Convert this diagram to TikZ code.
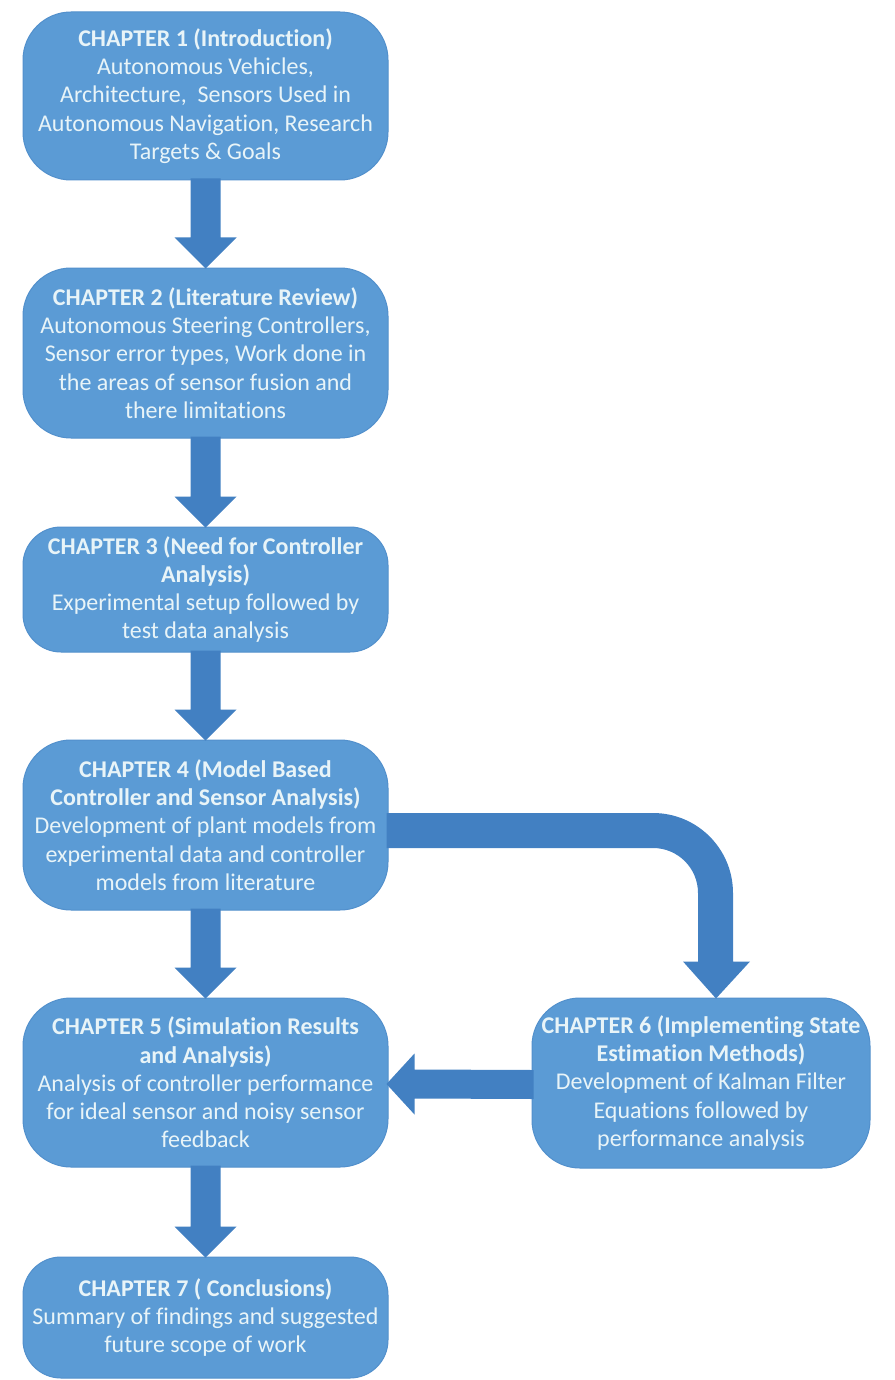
\documentclass[tikz,border=0pt]{standalone}
\usepackage{fontspec}
\setmainfont{Carlito}[Ligatures=NoCommon]
\usetikzlibrary{calc}
\definecolor{boxblue}{HTML}{5B9BD5}
\definecolor{boxedge}{HTML}{5290CC}
\definecolor{arrowblue}{HTML}{4280C2}
\definecolor{boxtext}{HTML}{E8F4F8}
% vertical block arrow from the bottom of one chapter box to the top of the next
\newcommand\chapterflow[2]{%
  \fill[blockarrow] ($(#1.south)+(-15,-2)$) -- ($(#2.north)+(-15,-30)$)
    -- ($(#2.north)+(-31,-30)$) -- ($(#2.north)+(0,1)$)
    -- ($(#2.north)+(31,-30)$) -- ($(#2.north)+(15,-30)$)
    -- ($(#1.south)+(15,-2)$) -- cycle;}
\begin{document}
\begin{tikzpicture}[x=1pt,y=-1pt,
  chapter/.style={rectangle, rounded corners=48pt, fill=boxblue, draw=boxedge,
    line width=1pt, text=boxtext, align=center, inner sep=0pt,
    font=\fontsize{24}{28.3}\selectfont},
  blockarrow/.style={fill=arrowblue}]
\useasboundingbox (0,0) rectangle (894,1380);
\fill[white] (0,0) rectangle (894,1380);

\node[chapter, minimum width=365pt, minimum height=168pt] (c1) at (205.5,96)
  {\textbf{CHAPTER 1 (Introduction)}\\Autonomous Vehicles,\\Architecture,\ \ Sensors Used in\\Autonomous Navigation, Research\\Targets \& Goals};
\node[chapter, minimum width=365pt, minimum height=170pt] (c2) at (205.5,353)
  {\textbf{CHAPTER 2 (Literature Review)}\\Autonomous Steering Controllers,\\Sensor error types, Work done in\\the areas of sensor fusion and\\there limitations};
\node[chapter, minimum width=365pt, minimum height=125pt, rounded corners=38pt] (c3) at (205.5,589.5)
  {\textbf{CHAPTER 3 (Need for Controller}\\\textbf{Analysis)}\\Experimental setup followed by\\test data analysis};
\node[chapter, minimum width=365pt, minimum height=170pt] (c4) at (205.5,825)
  {\textbf{CHAPTER 4 (Model Based}\\\textbf{Controller and Sensor Analysis)}\\Development of plant models from\\experimental data and controller\\models from literature};
\node[chapter, minimum width=365pt, minimum height=169pt] (c5) at (205.5,1082.5)
  {\textbf{CHAPTER 5 (Simulation Results}\\\textbf{and Analysis)}\\Analysis of controller performance\\for ideal sensor and noisy sensor\\feedback};
\node[chapter, minimum width=338pt, minimum height=170pt] (c6) at (701,1083)
  {\textbf{CHAPTER 6 (Implementing State}\\\textbf{Estimation Methods)}\\Development of Kalman Filter\\Equations followed by\\performance analysis};
\node[chapter, minimum width=365pt, minimum height=121pt, rounded corners=38pt] (c7) at (205.5,1317.5)
  {\textbf{CHAPTER 7 ( Conclusions)}\\Summary of findings and suggested\\future scope of work};

% straight flow down the left column
\chapterflow{c1}{c2}
\chapterflow{c2}{c3}
\chapterflow{c3}{c4}
\chapterflow{c4}{c5}
\chapterflow{c5}{c7}

% bent arrow from chapter 4 over to chapter 6
\coordinate (a) at ($(c4.east)+(-2,-12)$);
\coordinate (b) at ($(c4.east)+(-2,23)$);
\coordinate (tip6) at ($(c6.north)+(15,1)$);
\coordinate (bend) at ($(tip6 |- b)+(-63,45)$);
\fill[blockarrow] (a) -- ($(bend)+(0,-80)$)
  .. controls ($(bend)+(44.2,-80)$) and ($(bend)+(80,-44.2)$) .. ($(bend)+(80,0)$)
  -- ($(tip6)+(17,-37)$) -- ($(tip6)+(34,-37)$) -- (tip6)
  -- ($(tip6)+(-33,-37)$) -- ($(tip6)+(-18,-37)$) -- ($(bend)+(45,0)$)
  .. controls ($(bend)+(45,-24.9)$) and ($(bend)+(24.9,-45)$) .. ($(bend)+(0,-45)$)
  -- (b) -- cycle;

% arrow from chapter 6 back to chapter 5
\fill[blockarrow] ($(c6.west)+(2,-13)$) -- ($(c5.east)+(26,-13)$)
  -- ($(c5.east)+(26,-29)$) -- ($(c5.east)+(-2,1.5)$)
  -- ($(c5.east)+(26,32)$) -- ($(c5.east)+(26,16)$)
  -- ($(c6.west)+(2,16)$) -- cycle;
\end{tikzpicture}
\end{document}
